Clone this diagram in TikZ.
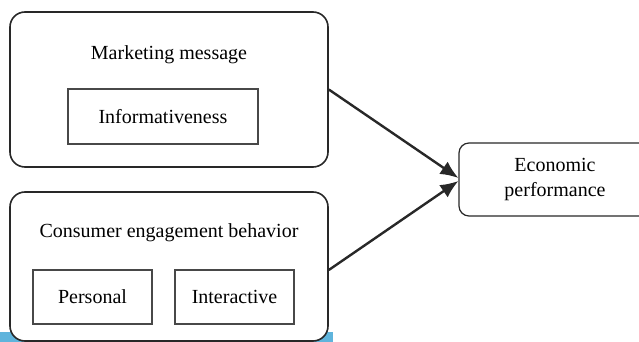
\documentclass[tikz,border=0pt]{standalone}
\usepackage{fontspec}
\setmainfont{Liberation Serif}
\definecolor{edgeblue}{RGB}{95, 180, 220}
\definecolor{linegray}{RGB}{40, 40, 40}
\usepackage{tikz}
\usetikzlibrary{arrows.meta, positioning}

\begin{document}
\begin{tikzpicture}[x=0.5pt, y=-0.5pt, font=\fontsize{10}{12.5}\selectfont,
  groupbox/.style={draw=linegray, line width=0.8pt, fill=white, rounded corners=7.5pt, minimum width=159pt, inner sep=0pt},
  itembox/.style={draw=linegray!85, line width=0.6pt, fill=white, minimum height=27pt, inner sep=0pt},
  effect/.style={->, line width=1.2pt, linegray, >={Latex[length=9pt,width=7.5pt]}}]
\clip (0,0) rectangle (639,342);
\fill[edgeblue] (0,332) rectangle (333,342);
% left side
\node[groupbox, minimum height=77.5pt] (msg) at (169,89.5) {};
\node (msglabel) at (169,55) {Marketing message};
\node[itembox, minimum width=95pt, minimum height=27.5pt] (info) at (163,116.5) {Informativeness};
\node[groupbox, minimum height=74.5pt] (ceb) at (169,266.5) {};
\node (deblabel) at (169,233) {Consumer engagement behavior};
\foreach \x/\name/\txt in {92.5/pers/Personal, 234.5/inter/Interactive} {
  \node[itembox, minimum width=59.5pt] (\name) at (\x,297) {\txt};
}
% right side
\node[draw=linegray, line width=0.6pt, rounded corners=5pt, minimum width=96pt, minimum height=36.5pt, align=center, inner sep=0pt] (eco) at (555,179.5) {Economic\\performance};
\draw[effect] (msg.east) -- ([yshift=0.75pt]eco.west);
\draw[effect] ([yshift=-1.75pt]ceb.east) -- ([yshift=-0.75pt]eco.west);
\end{tikzpicture}
\end{document}
